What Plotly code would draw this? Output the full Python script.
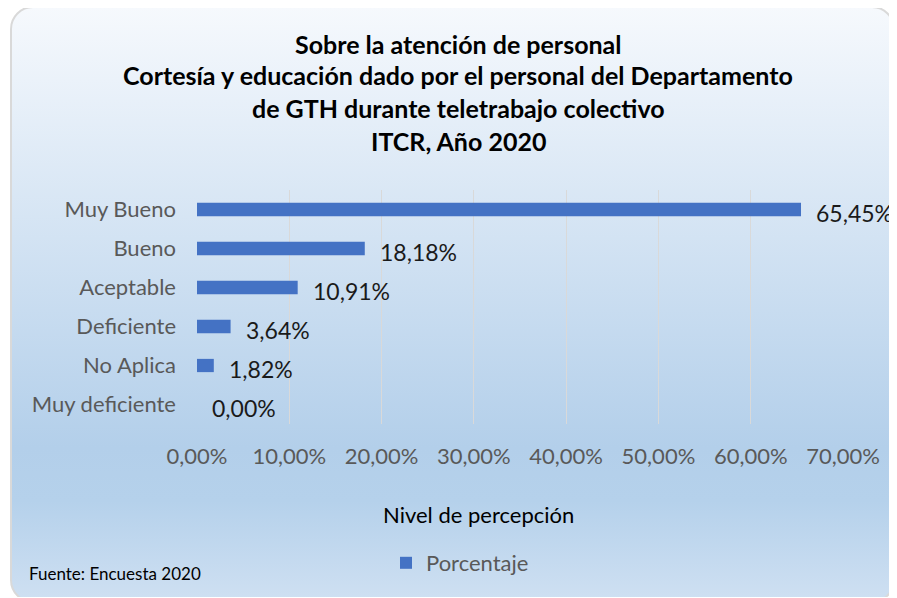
import base64

import plotly.graph_objects as go

# data
categorias = ["Muy Bueno", "Bueno", "Aceptable", "Deficiente", "No Aplica", "Muy deficiente"]
porcentajes = [65.45, 18.18, 10.91, 3.64, 1.82, 0.00]
ticks_x = [0, 10, 20, 30, 40, 50, 60, 70]
titulo = [
    "Sobre la atención de personal",
    "Cortesía y educación dado por el personal del Departamento",
    "de GTH durante teletrabajo colectivo",
    "ITCR, Año 2020",
]
serie = "Porcentaje"
eje_x = "Nivel de percepción"
fuente = "Fuente: Encuesta 2020"

# the page body has an 8px margin, so the figure is drawn 8px in from the corner
OX, OY = 8, 8
W, H = 897 - OX, 598 - OY
L, R, T, B = 197 - OX, 897 - 843, 190 - OY, 598 - 424
PW, PH = W - L - R, H - T - B
FONT = "Lato"
AZUL = "#4472C4"
GRIS = "#595959"


def px(x):
    # screen x (reference pixels) -> paper coordinate
    return (x - OX - L) / PW


def py(y):
    return 1 - (y - OY - T) / PH


def etiqueta(v):
    return f"{v:.2f}".replace(".", ",") + "%"


# rounded chart box with the light blue gradient
svg = (
    "<svg xmlns='http://www.w3.org/2000/svg' width='885' height='591'>"
    "<defs><linearGradient id='g' x1='0' y1='0' x2='0' y2='1'>"
    "<stop offset='0' stop-color='#f6f9fd'/>"
    "<stop offset='0.74' stop-color='#b3cfea'/>"
    "<stop offset='0.83' stop-color='#b5d1eb'/>"
    "<stop offset='1' stop-color='#cfe0f2'/>"
    "</linearGradient></defs>"
    "<rect x='1' y='1' width='883' height='595' rx='22' ry='22' "
    "fill='url(#g)' stroke='#d9d9d9' stroke-width='2'/></svg>"
)
fondo = "data:image/svg+xml;base64," + base64.b64encode(svg.encode()).decode()

fig = go.Figure()
fig.add_trace(go.Bar(
    x=porcentajes, y=categorias, orientation="h", name=serie,
    marker=dict(color=AZUL, line=dict(width=0)),
    hoverinfo="skip",
))

anotaciones = []
for i, linea in enumerate(titulo):
    anotaciones.append(dict(
        text="<b>" + linea + "</b>", x=px(458), y=py([44, 75, 108, 141][i]),
        xref="paper", yref="paper", showarrow=False, xanchor="center", yanchor="middle",
        font=dict(family=FONT, size=25, color="#000000"),
    ))
for c, v in zip(categorias, porcentajes):
    anotaciones.append(dict(
        text=etiqueta(v), x=v, y=c, xref="x", yref="y", showarrow=False,
        xanchor="left", yanchor="middle", xshift=13, yshift=-3,
        font=dict(family=FONT, size=23, color="#1a1a1a"),
    ))
anotaciones.append(dict(
    text=eje_x, x=px(478), y=py(514), xref="paper", yref="paper", showarrow=False,
    xanchor="center", yanchor="middle", font=dict(family=FONT, size=22, color="#000000"),
))
anotaciones.append(dict(
    text=fuente, x=px(27), y=py(573), xref="paper", yref="paper", showarrow=False,
    xanchor="left", yanchor="middle", font=dict(family=FONT, size=17, color="#000000"),
))

fig.update_layout(
    width=W, height=H,
    margin=dict(l=L, r=R, t=T, b=B, autoexpand=False),
    paper_bgcolor="white", plot_bgcolor="rgba(0,0,0,0)",
    font=dict(family=FONT, color=GRIS),
    bargap=0.66,
    showlegend=True,
    legend=dict(
        orientation="h", x=px(386), y=py(563), xanchor="left", yanchor="middle",
        bgcolor="rgba(0,0,0,0)", font=dict(family=FONT, size=22, color=GRIS),
        itemwidth=30,
    ),
    annotations=anotaciones,
    images=[dict(
        source=fondo, xref="paper", yref="paper", x=px(10), y=py(6),
        sizex=885 / PW, sizey=591 / PH, xanchor="left", yanchor="top",
        sizing="stretch", layer="below",
    )],
)
fig.update_xaxes(
    range=[0, 70], tickmode="array", tickvals=ticks_x,
    ticktext=[etiqueta(t) for t in ticks_x],
    showgrid=True, gridcolor="#d9d9d9", gridwidth=1, zeroline=False,
    showline=False, ticks="outside", ticklen=13, tickcolor="rgba(0,0,0,0)",
    tickfont=dict(family=FONT, size=22, color=GRIS), fixedrange=True,
)
fig.update_yaxes(
    autorange="reversed", showgrid=False, zeroline=False, showline=False,
    ticks="", ticklabelstandoff=20,
    tickfont=dict(family=FONT, size=22, color=GRIS), fixedrange=True,
)

fig.write_html("out.html")
